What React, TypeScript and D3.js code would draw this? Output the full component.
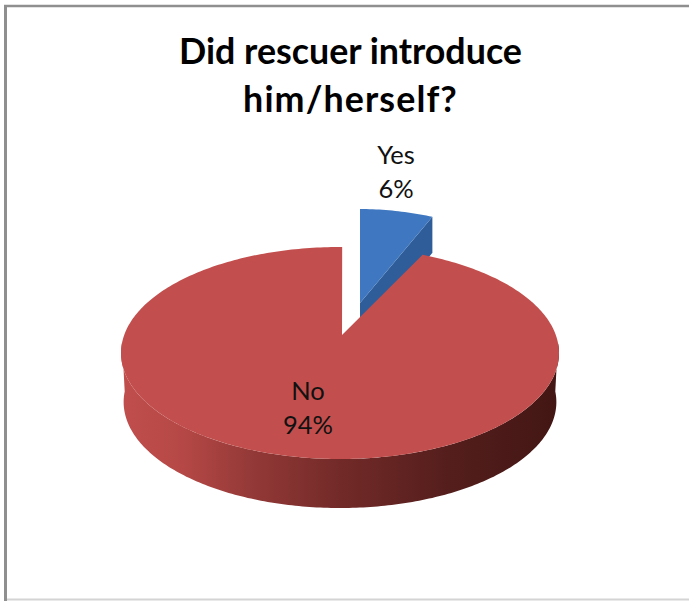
import React from "react";
import * as d3 from "d3";

const categories = ["Yes", "No"];
const shares = [6, 94];
const titleLines = ["Did rescuer introduce", "him/herself?"];
const titleTracking = [0, 1.1];
const sliceColors = ["#3f78c0", "#c24f4d"];
const font = "Lato, 'Open Sans', sans-serif";

const W = 689;
const H = 601;
// Pie top face, seen at a tilt: an ellipse with the hub sitting above its centre.
const cx = 340;
const cy = 353;
const rx = 219;
const ry = 106;
const hub = { x: 342, y: 335 };
const depth = 49;
// Pulled-out slice
const explode = { dx: 18, dy: -38 };
const pulledScale = 0.9;
const pulledDepth = 36;

const slices = d3
  .pie<number>()
  .sort(null)
  .startAngle(0.01)
  .endAngle(Math.PI * 2 + 0.01)(shares);

const ellipsePoint = (a: number, scale = 1, dy = 0): [number, number] => [
  cx + rx * scale * Math.sin(a),
  cy + dy - ry * Math.cos(a),
];

const arcPoints = (a0: number, a1: number, scale = 1, dy = 0): [number, number][] => {
  const n = Math.max(2, Math.ceil(Math.abs(a1 - a0) * 60));
  return d3.range(n + 1).map((i) => ellipsePoint(a0 + ((a1 - a0) * i) / n, scale, dy));
};

const line = d3.line();

const redSlice = slices[1];
const blueSlice = slices[0];

// Red: top face
const redTop = line([[hub.x, hub.y], ...arcPoints(redSlice.startAngle, redSlice.endAngle)]) + "Z";

// Red: outer wall along the front half of the ellipse
const wallTop = arcPoints(Math.PI / 2 - 0.1, (Math.PI * 3) / 2 + 0.1);
const wallBottom = arcPoints((Math.PI * 3) / 2 + 0.1, Math.PI / 2 - 0.1, 0.988, depth);
const redWall = line([...wallTop, ...wallBottom]) + "Z";

// Blue: top face and the darker cut face directly beneath its right-hand edge
const bluePts = arcPoints(blueSlice.startAngle, blueSlice.endAngle, pulledScale);
const blueApex: [number, number] = [hub.x, hub.y + 6];
const blueTop = line([blueApex, ...bluePts]) + "Z";
const blueEnd = bluePts[bluePts.length - 1];
const blueCut =
  line([
    blueApex,
    blueEnd,
    [blueEnd[0], blueEnd[1] + pulledDepth],
    [blueApex[0], blueApex[1] + pulledDepth],
  ]) + "Z";

const frameColor = "#8f8f8f";

export default function App() {
  return (
    <svg
      width={W}
      height={H}
      viewBox={`0 0 ${W} ${H}`}
      style={{ position: "absolute", left: 0, top: 0, background: "#fff" }}
    >
      <defs>
        <linearGradient id="redWallShade" gradientUnits="userSpaceOnUse" x1={cx - rx} x2={cx + rx} y1={0} y2={0}>
          <stop offset="0" stopColor="#c04e4c" />
          <stop offset="0.14" stopColor="#b54846" />
          <stop offset="0.3" stopColor="#933937" />
          <stop offset="0.5" stopColor="#722a28" />
          <stop offset="0.75" stopColor="#541e1c" />
          <stop offset="1" stopColor="#421614" />
        </linearGradient>
      </defs>

      {/* Chart frame: heavy on the top and left, faint along the bottom */}
      <line x1={5.5} x2={5.5} y1={5} y2={H} stroke={frameColor} strokeWidth={3} />
      <line x1={4} x2={W} y1={6} y2={6} stroke={frameColor} strokeWidth={2.5} />
      <line x1={7} x2={W} y1={599.5} y2={599.5} stroke="#d4d4d4" strokeWidth={2} />

      {titleLines.map((t, i) => (
        <text
          key={t}
          x={350.5}
          y={64 + i * 48}
          textAnchor="middle"
          fontFamily={font}
          fontWeight={700}
          fontSize={35.8}
          letterSpacing={titleTracking[i]}
          fill="#000"
        >
          {t}
        </text>
      ))}

      {/* Pulled-out "Yes" slice */}
      <g transform={`translate(${explode.dx},${explode.dy})`}>
        <path d={blueCut} fill="#2f5d9a" />
        <path d={blueTop} fill={sliceColors[0]} />
      </g>

      {/* Main "No" slice */}
      <path d={redWall} fill="url(#redWallShade)" />
      <path d={redTop} fill={sliceColors[1]} />

      {/* Value labels */}
      {[
        { name: categories[0], value: shares[0], x: 396, y: 164 },
        { name: categories[1], value: shares[1], x: 308, y: 400 },
      ].map((d) => (
        <text key={d.name} textAnchor="middle" fontFamily={font} fontSize={25.5} fill="#111">
          <tspan x={d.x} y={d.y}>
            {d.name}
          </tspan>
          <tspan x={d.x} y={d.y + 34}>
            {d.value}%
          </tspan>
        </text>
      ))}
    </svg>
  );
}
